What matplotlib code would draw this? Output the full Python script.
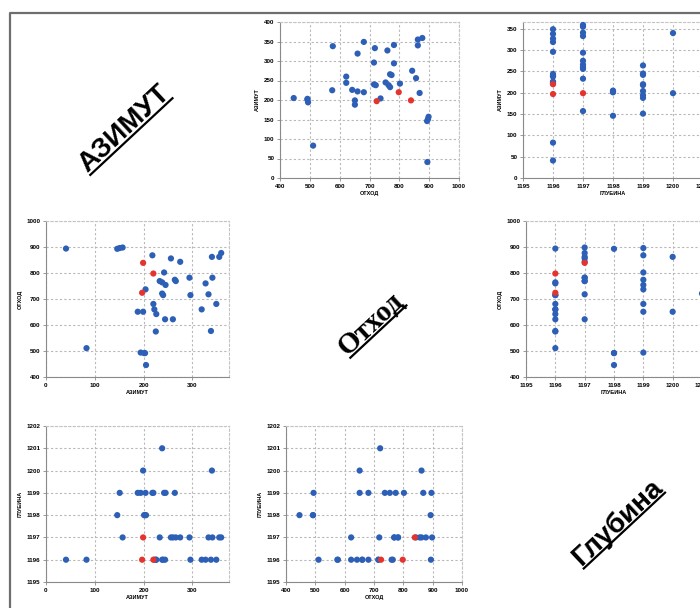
import numpy as np
import matplotlib
matplotlib.use("Agg")
import matplotlib.pyplot as plt

azimuth = [41, 83, 146, 151, 157, 218, 199, 220, 197, 204, 242, 256, 275, 233,
           238, 245, 264, 266, 238, 240, 294, 296, 340, 355, 359, 341, 327, 333,
           319, 349, 338, 188, 199, 220, 222, 226, 244, 260, 225, 194, 201, 203, 205]
offset = [894, 511, 893, 896, 898, 868, 839, 798, 724, 737, 802, 856, 843, 769,
          764, 754, 774, 769, 721, 715, 782, 715, 862, 862, 877, 782, 760, 718,
          660, 681, 577, 651, 651, 681, 660, 642, 622, 622, 575, 494, 492, 492, 446]
depth = [1196, 1196, 1198, 1199, 1197, 1199, 1197, 1196, 1196, 1199, 1199, 1197, 1197, 1197,
         1196, 1199, 1199, 1197, 1201, 1196, 1197, 1196, 1200, 1197, 1197, 1197, 1196, 1197,
         1196, 1196, 1196, 1199, 1200, 1199, 1196, 1196, 1196, 1197, 1196, 1199, 1198, 1198, 1198]
flagged = [0, 0, 0, 0, 0, 0, 1, 1, 1, 0, 0, 0, 0, 0,
           0, 0, 0, 0, 0, 0, 0, 0, 0, 0, 0, 0, 0, 0,
           0, 0, 0, 0, 0, 0, 0, 0, 0, 0, 0, 0, 0, 0, 0]

names = ["АЗИМУТ", "ОТХОД", "ГЛУБИНА"]
diag_titles = ["АЗИМУТ", "Отход", "Глубина"]

cols = {"АЗИМУТ": np.array(azimuth), "ОТХОД": np.array(offset), "ГЛУБИНА": np.array(depth)}
red = np.array(flagged, dtype=bool)

W, H = 700, 608
fig = plt.figure(figsize=(7, 6.08), dpi=100)
plt.rcParams['font.family'] = ['Liberation Sans', 'DejaVu Sans']

# background layer in pixel coordinates (frame + diagonal titles)
bg = fig.add_axes([0, 0, 1, 1])
bg.set_xlim(0, W)
bg.set_ylim(H, 0)
bg.axis('off')
bg.plot([10, 10, 720], [620, 13, 13], color='#6e6e6e', lw=1.6, clip_on=False)

# axis settings per variable
lims = {"АЗИМУТ": (0, 375), "ОТХОД": (400, 1000), "ГЛУБИНА": (1195, 1201)}
ticks = {"АЗИМУТ": np.arange(0, 301, 100), "ОТХОД": np.arange(400, 1001, 100),
         "ГЛУБИНА": np.arange(1195, 1202, 1)}

# (x variable, y variable, pixel box x0, y0, x1, y1, y limits, y ticks)
panels = [
    ("ОТХОД", "АЗИМУТ", (280, 22, 459, 178), (0, 400), np.arange(0, 401, 50)),
    ("ГЛУБИНА", "АЗИМУТ", (523, 22, 703, 178), (0, 366), np.arange(0, 351, 50)),
    ("АЗИМУТ", "ОТХОД", (46, 221, 229, 377), (400, 1000), np.arange(400, 1001, 100)),
    ("ГЛУБИНА", "ОТХОД", (526, 221, 702, 377), (400, 1000), np.arange(400, 1001, 100)),
    ("АЗИМУТ", "ГЛУБИНА", (46, 426, 229, 582), (1195, 1202), np.arange(1195, 1203, 1)),
    ("ОТХОД", "ГЛУБИНА", (286, 426, 462, 582), (1195, 1202), np.arange(1195, 1203, 1)),
]

for xv, yv, (x0, y0, x1, y1), ylim, yt in panels:
    ax = fig.add_axes([x0 / W, 1 - y1 / H, (x1 - x0) / W, (y1 - y0) / H])
    ax.set_xlim(*lims[xv])
    ax.set_ylim(*ylim)
    ax.set_xticks(ticks[xv])
    ax.set_yticks(yt)
    ax.grid(True, color='#b8b8b8', lw=0.8, linestyle=(0, (2, 2)))
    ax.set_axisbelow(True)
    for s in ['top', 'right']:
        ax.spines[s].set_color('#c4c4c4')
        ax.spines[s].set_linestyle((0, (2, 2)))
        ax.spines[s].set_linewidth(0.8)
    for s in ['left', 'bottom']:
        ax.spines[s].set_color('#8a8a8a')
        ax.spines[s].set_linewidth(0.8)
    ax.tick_params(length=2, width=0.6, color='#8a8a8a', labelsize=4.5, pad=2)
    for lab in ax.get_xticklabels() + ax.get_yticklabels():
        lab.set_fontweight('bold')
    ax.set_xlabel(xv, fontsize=4, fontweight='bold', labelpad=2)
    ax.set_ylabel(yv, fontsize=4, fontweight='bold', labelpad=3)
    xd, yd = cols[xv], cols[yv]
    ax.scatter(xd[~red], yd[~red], s=20, color='#2c5fb5', edgecolors='none', zorder=3, clip_on=False)
    ax.scatter(xd[red], yd[red], s=20, color='#e3342f', edgecolors='none', zorder=4, clip_on=False)

# diagonal titles, rotated and underlined
fig.canvas.draw()
renderer = fig.canvas.get_renderer()
diag = [
    ("АЗИМУТ", (129, 134), 20, 'Liberation Sans'),
    ("Отход", (376, 329), 21, 'Liberation Serif'),
    ("Глубина", (622, 528), 20, 'Liberation Sans'),
]
ang = 43
th = np.radians(ang)
for txt, (cx, cy), fs, fam in diag:
    t = bg.text(cx, cy, txt, fontsize=fs, fontweight='bold', family=fam,
                ha='center', va='baseline', rotation=0, rotation_mode='anchor')
    L = t.get_window_extent(renderer).width
    t.set_rotation(ang)
    d = 3.5
    ux, uy = np.cos(th), -np.sin(th)
    px, py = np.sin(th) * d, np.cos(th) * d
    bg.plot([cx - ux * L / 2 + px, cx + ux * L / 2 + px],
            [cy - uy * L / 2 + py, cy + uy * L / 2 + py],
            color='black', lw=1.6, solid_capstyle='butt')

fig.savefig("out.png", dpi=100)
